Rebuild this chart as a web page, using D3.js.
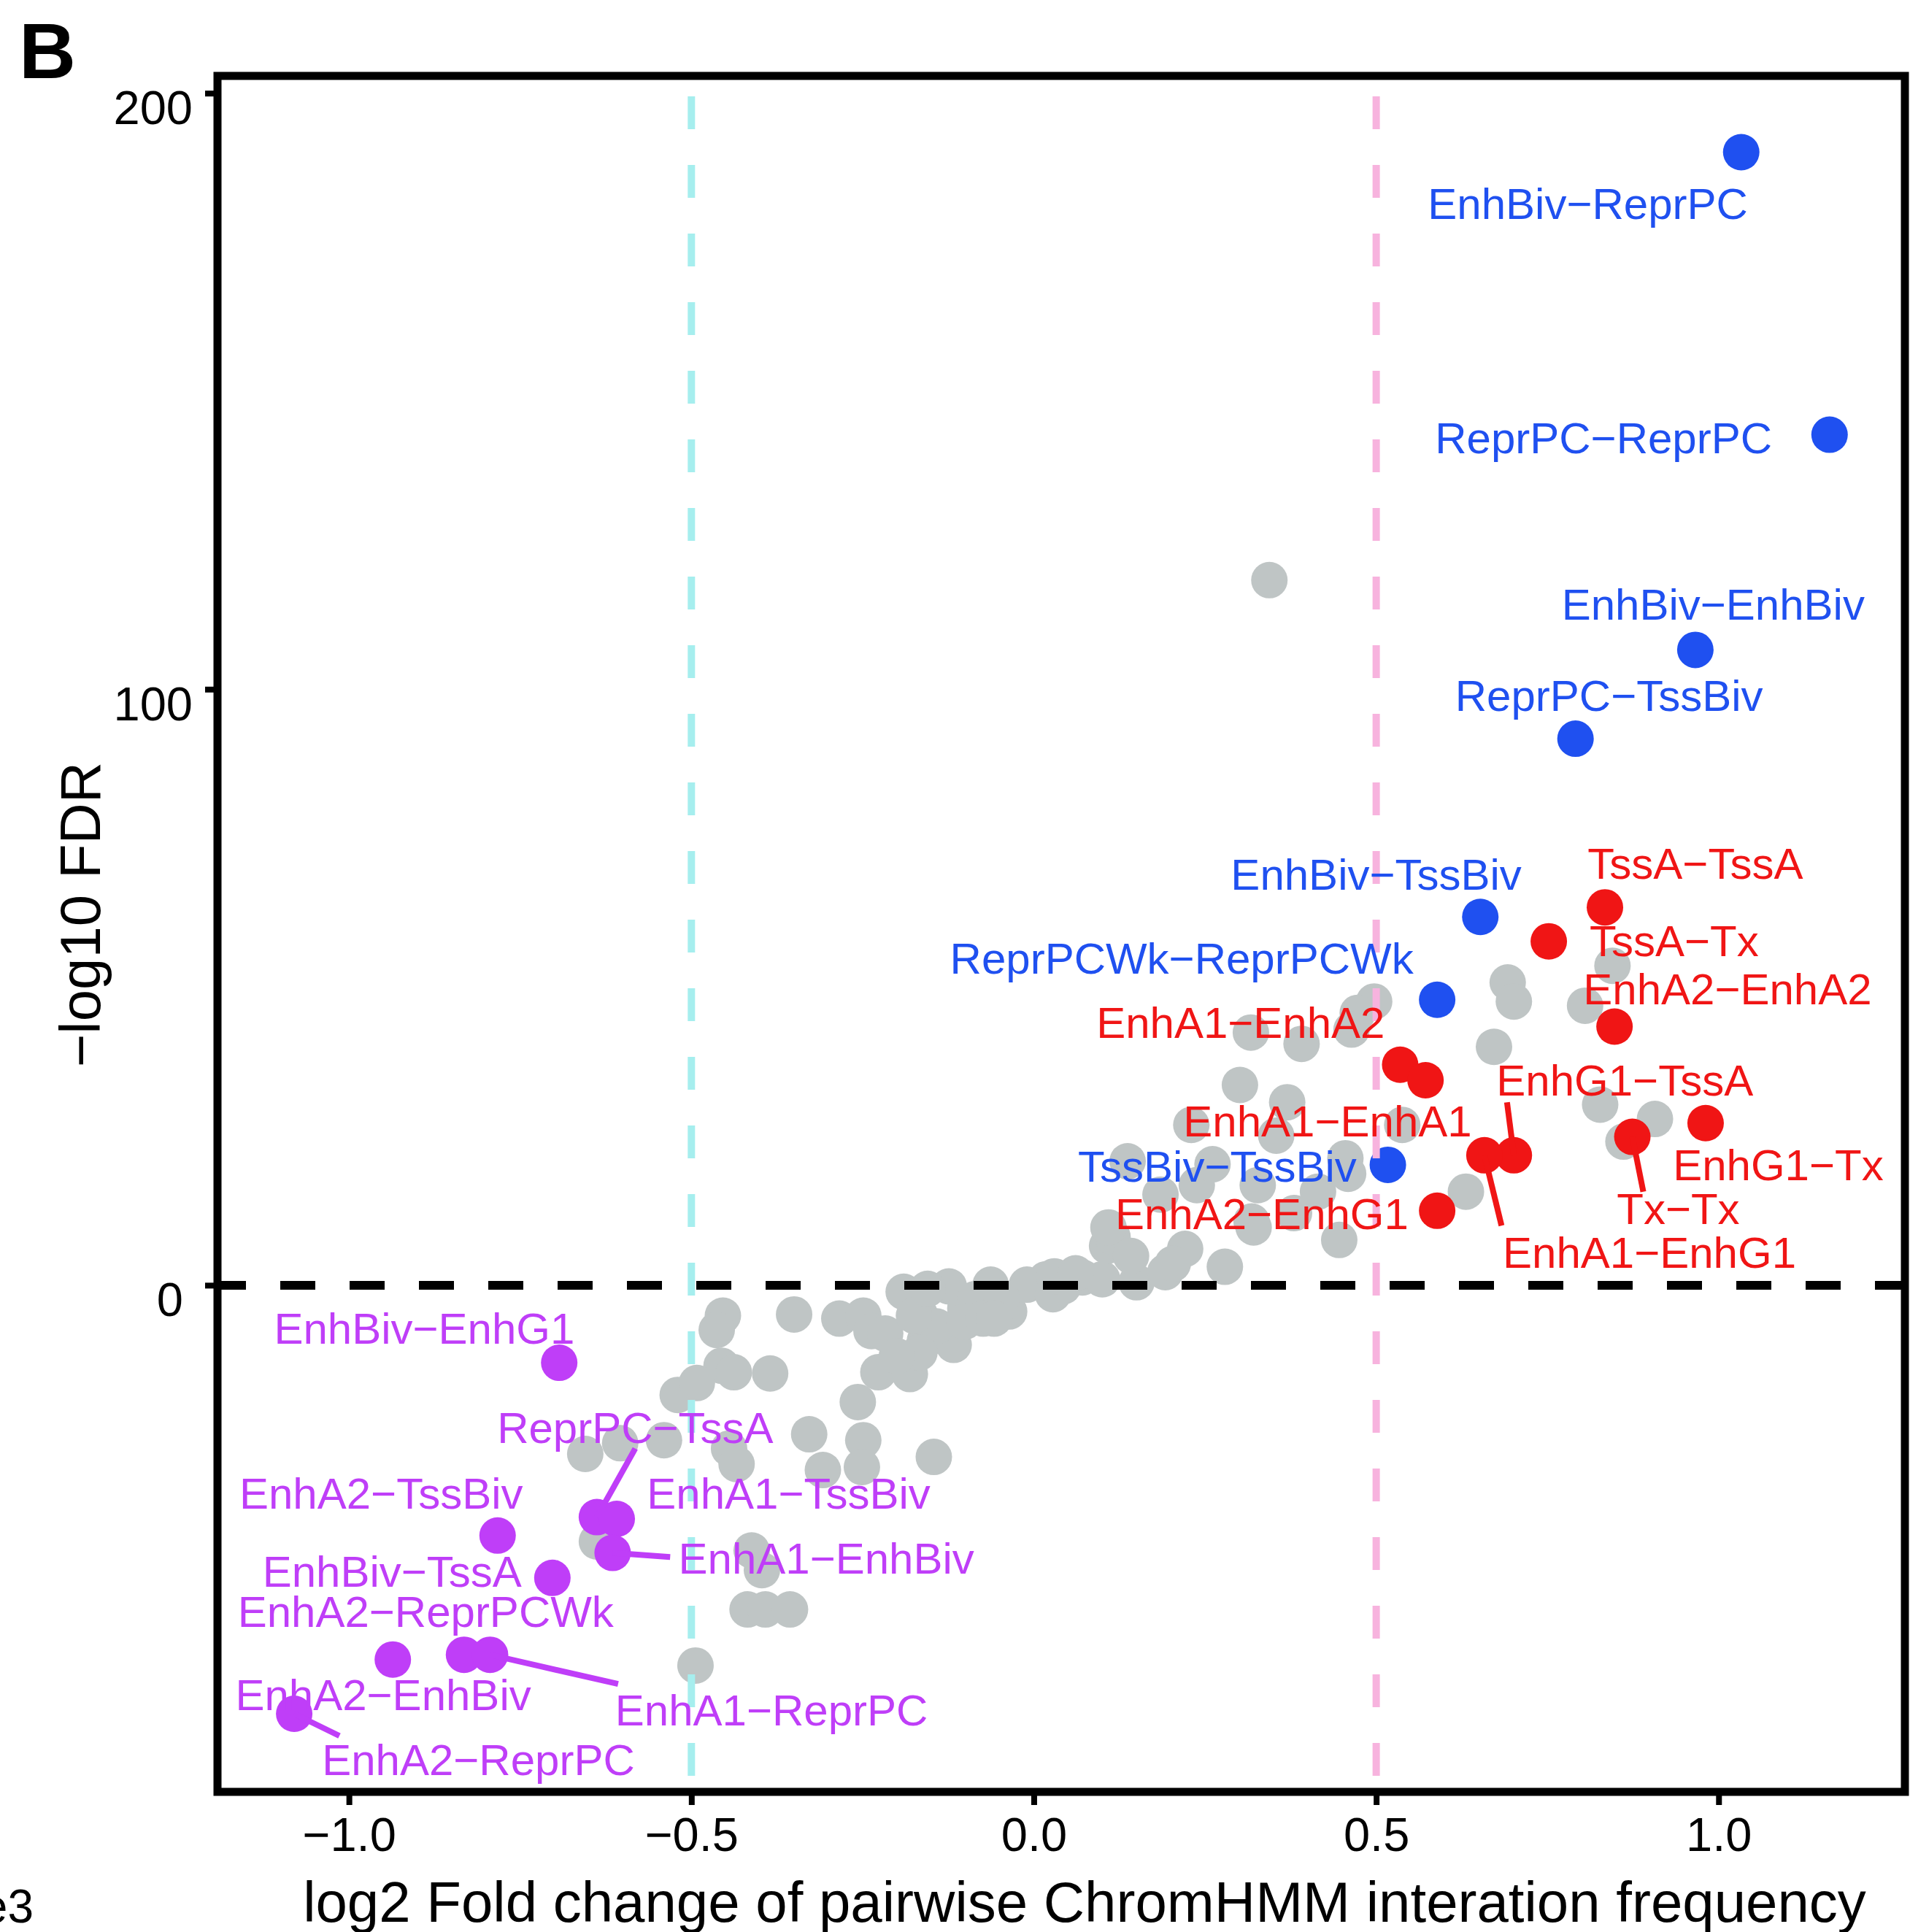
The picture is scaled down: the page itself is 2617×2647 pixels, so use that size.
<!DOCTYPE html>
<html>
<head>
<meta charset="utf-8">
<script src="https://cdn.jsdelivr.net/npm/d3@7"></script>
<style>
body { margin: 0; background: #fff; }
text { font-family: "Liberation Sans", Arial, Helvetica, sans-serif; }
</style>
</head>
<body>
<div id="chart"></div>
<script>
// background pairs (not significant), log2 FC and signed -log10 FDR
var grayX = [0.344,
    -0.454, -0.463, -0.350, -0.284, -0.249, -0.237, -0.456, -0.438, -0.385, -0.520,
    -0.492, -0.257, -0.328, -0.249, -0.251, -0.308, -0.146, -0.445, -0.434, -0.540,
    -0.604, -0.655, -0.638, -0.412, -0.397, -0.418, -0.392, -0.356, -0.494,
    -0.190, -0.217, -0.227, -0.181, -0.167, -0.159, -0.117, -0.124, -0.100, -0.063,
    -0.036, -0.010, 0.018, 0.043, 0.071, 0.100, 0.107, 0.150, 0.192, -0.142,
    -0.085, 0.028, -0.047, -0.101, -0.074, -0.167, -0.175, -0.058, 0.030, 0.061,
    -0.200, -0.155,
    0.115, 0.221, 0.279, 0.137, 0.185, 0.238, 0.261, 0.318, 0.327, 0.380,
    0.230, 0.446, 0.459, 0.497, 0.473, 0.464, 0.317, 0.391, 0.301, 0.370,
    0.354, 0.538, 0.455, 0.415, 0.631, 0.109, 0.142, 0.203, 0.321, 0.672,
    0.692, 0.701, 0.845, 0.805, 0.827, 0.907, 0.861];
var grayY = [118.3,
    -5.1, -7.5, -4.9, -5.6, -5.1, -7.7, -13.5, -14.6, -14.8, -18.4,
    -16.4, -19.6, -25.0, -26.0, -30.5, -31.0, -28.8, -27.4, -30.0, -26.0,
    -26.5, -28.3, -43.0, -44.5, -47.8, -54.4, -54.4, -54.4, -63.8,
    -1.1, -8.1, -14.6, -14.9, -4.8, -9.3, -10.0, -0.2, -3.9, 0.1,
    -4.4, 0.1, 1.0, -0.2, 1.3, 1.0, 6.6, 0.5, 2.2, -6.9,
    -2.3, -1.5, -2.1, -6.1, -5.6, -11.3, -5.1, -5.6, 1.5, 2.0,
    -11.9, -0.6,
    8.1, 6.1, 3.1, 20.8, 15.2, 16.8, 20.3, 10.7, 16.8, 12.1,
    26.9, 7.6, 18.7, 47.6, 45.7, 42.9, 42.4, 40.5, 33.6, 30.7,
    25.1, 26.9, 21.3, 15.7, 15.7, 9.7, 4.9, 3.6, 9.7, 40.0,
    50.8, 47.6, 53.6, 46.9, 30.3, 27.9, 24.1];

// labelled pairs
var hitNames = ["EnhBiv\u2212ReprPC", "ReprPC\u2212ReprPC", "EnhBiv\u2212EnhBiv", "ReprPC\u2212TssBiv",
    "EnhBiv\u2212TssBiv", "ReprPCWk\u2212ReprPCWk", "TssBiv\u2212TssBiv",
    "TssA\u2212TssA", "TssA\u2212Tx", "EnhA2\u2212EnhA2", "EnhA1\u2212EnhA2", "EnhA1\u2212EnhA1",
    "EnhG1\u2212TssA", "EnhA1\u2212EnhG1", "EnhG1\u2212Tx", "Tx\u2212Tx", "EnhA2\u2212EnhG1",
    "EnhBiv\u2212EnhG1", "ReprPC\u2212TssA", "EnhA1\u2212TssBiv", "EnhA1\u2212EnhBiv", "EnhA2\u2212TssBiv",
    "EnhBiv\u2212TssA", "EnhA2\u2212ReprPCWk", "EnhA2\u2212EnhBiv", "EnhA1\u2212ReprPC", "EnhA2\u2212ReprPC"];
var hitGroup = ["poly", "poly", "poly", "poly", "poly", "poly", "poly",
    "active", "active", "active", "active", "active", "active", "active", "active", "active", "active",
    "down", "down", "down", "down", "down", "down", "down", "down", "down", "down"];
var hitX = [1.033, 1.162, 0.966, 0.791, 0.652, 0.589, 0.517,
    0.834, 0.752, 0.848, 0.535, 0.572, 0.701, 0.658, 0.981, 0.874, 0.589,
    -0.693, -0.638, -0.609, -0.615, -0.783, -0.703, -0.832, -0.936, -0.794, -1.080];
var hitY = [190.1, 142.7, 106.6, 91.7, 61.8, 47.9, 20.2,
    63.4, 57.7, 43.4, 37.0, 34.4, 21.8, 21.8, 27.2, 24.9, 12.5,
    -13.0, -38.9, -39.2, -44.9, -42.0, -49.1, -62.0, -62.8, -62.0, -71.9];

// repelled label centres (data units) and segment ends (null = no segment)
var labelX = [0.809, 0.832, 0.992, 0.840, 0.500, 0.216, 0.268,
    0.966, 0.935, 1.013, 0.302, 0.429, 0.863, 0.899, 1.087, 0.941, 0.333,
    -0.890, -0.582, -0.358, -0.303, -0.953, -0.937, -0.888, -0.950, -0.383, -0.811];
var labelY = [181.5, 142.2, 114.3, 99.0, 69.0, 54.9, 20.0,
    70.8, 57.9, 49.8, 44.1, 27.6, 34.5, 5.6, 20.2, 12.9, 12.1,
    -7.2, -23.8, -34.9, -45.8, -34.9, -48.0, -54.7, -68.7, -71.2, -79.6];
var segEndX = [null, null, null, null, null, null, null,
    null, null, null, null, null, 0.691, 0.683, null, 0.890, null,
    null, -0.582, null, -0.531, null, null, null, null, -0.607, -1.014];
var segEndY = [null, null, null, null, null, null, null,
    null, null, null, null, null, 30.7, 10.0, null, 15.7, null,
    null, -27.4, null, -45.6, null, null, null, null, -66.9, -75.6];

var xTicks = [-1.0, -0.5, 0.0, 0.5, 1.0];
var yTicks = [0, 100, 200];
var fcCutoffs = [-0.5, 0.5];

var groupColor = { poly: "#1f50f0", active: "#f01515", down: "#bf3ef8" };
var cutoffColor = ["#a6eeee", "#f7b3de"];

var areaWidth = 2617, areaHeight = 2647;
var plotLeft = 298, plotRight = 2610, plotTop = 104, plotBottom = 2455;

var svg = d3.select("#chart").append("svg")
    .attr("width", areaWidth)
    .attr("height", areaHeight)
    .style("background", "#fff");

var xScale = d3.scaleLinear().domain([-1.192, 1.272]).range([plotLeft, plotRight]);
var yScale = d3.scaleLinear().domain([-85.0, 202.9]).range([plotBottom, plotTop]);

// gray points
svg.append("g")
    .selectAll("circle")
    .data(d3.range(grayX.length))
    .enter()
    .append("circle")
    .attr("cx", function(i) { return xScale(grayX[i]); })
    .attr("cy", function(i) { return yScale(grayY[i]); })
    .attr("r", 25)
    .style("fill", "#bfc5c5");

// highlighted points
svg.append("g")
    .selectAll("circle")
    .data(d3.range(hitNames.length))
    .enter()
    .append("circle")
    .attr("cx", function(i) { return xScale(hitX[i]); })
    .attr("cy", function(i) { return yScale(hitY[i]); })
    .attr("r", 25)
    .style("fill", function(i) { return groupColor[hitGroup[i]]; });

// zero line
svg.append("line")
    .attr("x1", plotLeft).attr("x2", plotRight)
    .attr("y1", yScale(0)).attr("y2", yScale(0))
    .style("stroke", "#000")
    .style("stroke-width", 12)
    .style("stroke-dasharray", "48,47")
    .style("stroke-dashoffset", 9);

// fold change cut-offs
svg.append("g")
    .selectAll("line")
    .data(fcCutoffs)
    .enter()
    .append("line")
    .attr("x1", function(d) { return xScale(d); })
    .attr("x2", function(d) { return xScale(d); })
    .attr("y1", plotTop).attr("y2", plotBottom)
    .style("stroke", function(d, i) { return cutoffColor[i]; })
    .style("stroke-width", 10)
    .style("stroke-dasharray", "45,49")
    .style("stroke-dashoffset", 66);

// label segments
svg.append("g")
    .selectAll("line")
    .data(d3.range(hitNames.length).filter(function(i) { return segEndX[i] !== null; }))
    .enter()
    .append("line")
    .attr("x1", function(i) { return xScale(hitX[i]); })
    .attr("y1", function(i) { return yScale(hitY[i]); })
    .attr("x2", function(i) { return xScale(segEndX[i]); })
    .attr("y2", function(i) { return yScale(segEndY[i]); })
    .style("stroke", function(i) { return groupColor[hitGroup[i]]; })
    .style("stroke-width", 8);

// labels
svg.append("g")
    .selectAll("text")
    .data(d3.range(hitNames.length))
    .enter()
    .append("text")
    .text(function(i) { return hitNames[i]; })
    .attr("x", function(i) { return xScale(labelX[i]); })
    .attr("y", function(i) { return yScale(labelY[i]); })
    .attr("dy", "0.358em")
    .attr("text-anchor", "middle")
    .style("font-size", "60px")
    .style("fill", function(i) { return groupColor[hitGroup[i]]; });

// axes
var xAxis = d3.axisBottom(xScale)
    .tickValues(xTicks)
    .tickFormat(function(d) { return d3.format(".1f")(d).replace("-", "\u2212"); })
    .tickSize(18)
    .tickPadding(20);
var gx = svg.append("g").attr("transform", "translate(0," + plotBottom + ")").call(xAxis);
gx.select(".domain").remove();
gx.selectAll("line").style("stroke", "#000").style("stroke-width", 8);
gx.selectAll("text")
    .attr("dy", null)
    .attr("y", 81)
    .style("font-size", "65px")
    .style("fill", "#000");

var yAxis = d3.axisLeft(yScale)
    .tickValues(yTicks)
    .tickFormat(function(d) { return d === 0 ? "0\u2009" : String(d); })
    .tickSize(17)
    .tickPadding(0);
var gy = svg.append("g").attr("transform", "translate(" + plotLeft + ",0)").call(yAxis);
gy.select(".domain").remove();
gy.selectAll("line").style("stroke", "#000").style("stroke-width", 8);
gy.selectAll("text")
    .attr("x", -34)
    .attr("dy", null)
    .attr("y", 42)
    .style("font-size", "65px")
    .style("fill", "#000");

// frame
svg.append("rect")
    .attr("x", plotLeft).attr("y", plotTop)
    .attr("width", plotRight - plotLeft).attr("height", plotBottom - plotTop)
    .style("fill", "none")
    .style("stroke", "#000")
    .style("stroke-width", 11);

// titles
svg.append("text")
    .text("log2 Fold change of pairwise ChromHMM interation frequency")
    .attr("x", 1486).attr("y", 2633)
    .attr("text-anchor", "middle")
    .style("font-size", "78px");

svg.append("text")
    .text("\u2212log10 FDR")
    .attr("transform", "translate(137,1253) rotate(-90)")
    .attr("text-anchor", "middle")
    .style("font-size", "78px");

svg.append("text")
    .text("B")
    .attr("x", 26).attr("y", 107)
    .style("font-size", "108px")
    .style("font-weight", "bold");

svg.append("text")
    .text("e3")
    .attr("x", 46).attr("y", 2634)
    .attr("text-anchor", "end")
    .style("font-size", "64px");
</script>
</body>
</html>
